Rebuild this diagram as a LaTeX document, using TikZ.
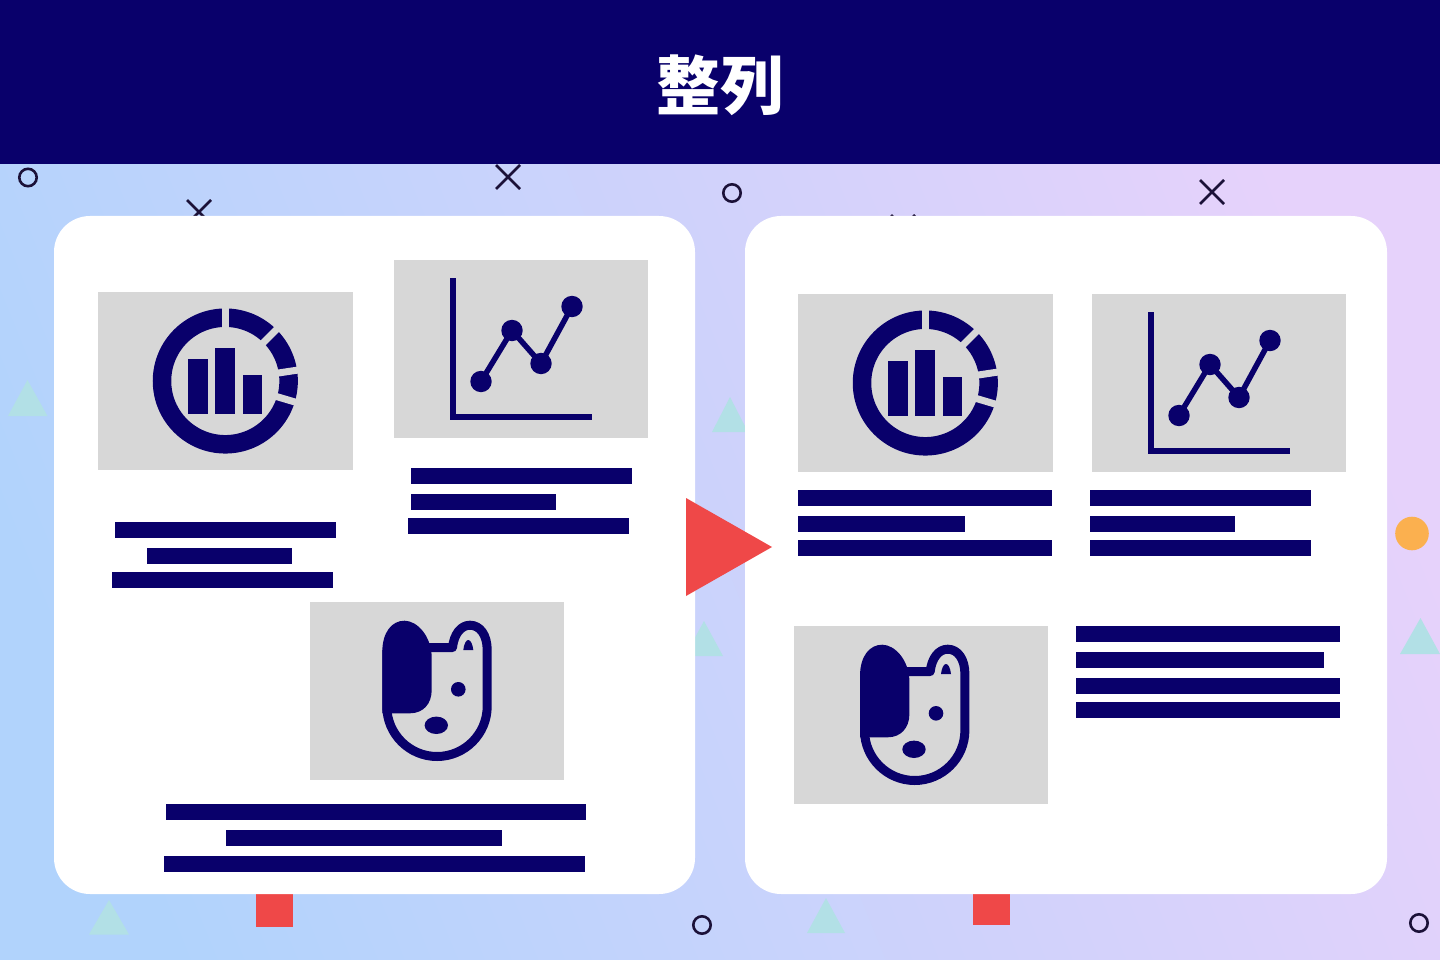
\documentclass[tikz,border=0pt]{standalone}
\usepackage{fontspec}
\newfontfamily\cjk{Noto Sans CJK JP}
\definecolor{navy}{HTML}{09006B}
\definecolor{panelgrey}{HTML}{D7D7D7}
\definecolor{ink}{HTML}{1B1138}
\definecolor{teal}{HTML}{B2E0E6}
\definecolor{redmark}{HTML}{EF4848}
\definecolor{orangemark}{HTML}{FBB04F}
\definecolor{bgA}{HTML}{B1D3FC}
\definecolor{bgB}{HTML}{E6D2FB}
\tikzset{
  cardbox/.style={fill=white,rounded corners=36pt},
  panelbox/.style={fill=panelgrey},
  barbox/.style={fill=navy},
  ringmark/.style={draw=ink,line width=2.6pt},
  crossmark/.style={draw=ink,line width=2.6pt},
  triamark/.style={fill=teal},
  squaremark/.style={fill=redmark},
  gapline/.style={draw=panelgrey,line width=7pt},
  iconline/.style={draw=navy,line width=5.5pt},
  doglines/.style={draw=navy,line width=9pt,line join=round}
}
\newcommand{\gaugeicon}[2]{%
\begin{scope}[shift={(#1,#2)}]
  \draw[navy,line width=18.5pt] (225.3,381) circle[radius=63.3];
  \draw[gapline] (225,300) -- (225,350);
  \draw[gapline] (282,324) -- (260,346);
  \draw[gapline] (305,369) -- (275,373.5);
  \draw[gapline] (305,405) -- (273,395.5);
  \fill[navy] (188,359.3) rectangle (207.7,414);
  \fill[navy] (215.3,347.7) rectangle (235,414);
  \fill[navy] (242.7,375) rectangle (262.3,414);
\end{scope}}
\newcommand{\charticon}[2]{%
\begin{scope}[shift={(#1,#2)}]
  \draw[iconline,line width=6pt] (453,278) -- (453,417) -- (592,417);
  \draw[iconline] (481,381.5) -- (512,330.5) -- (541,363.5) -- (572,306.5);
  \fill[navy] (481,381.5) circle[radius=10.7];
  \fill[navy] (512,330.5) circle[radius=10.7];
  \fill[navy] (541,363.5) circle[radius=10.7];
  \fill[navy] (572,306.5) circle[radius=10.7];
\end{scope}}
\newcommand{\dogicon}[2]{%
\begin{scope}[shift={(#1,#2)}]
  \draw[doglines] (386.8,650) -- (386.8,706.3) .. controls (386.8,734) and (409.4,756.5) .. (437,756.5)
     .. controls (464.6,756.5) and (487.2,734) .. (487.2,706.3) -- (487.2,650)
     .. controls (487.2,635) and (480,625.2) .. (470,625.2)
     .. controls (461,625.2) and (454,634) .. (452.5,647.5) -- (425,647.5);
  \fill[navy] (382.3,652) .. controls (382.3,632) and (392,620.7) .. (404.5,620.7)
     .. controls (417,620.7) and (431.7,636) .. (431.7,658) -- (431.7,690)
     .. controls (431.7,704) and (423,713.3) .. (410,713.3) -- (382.3,713.3) -- cycle;
  \fill[navy] (463.3,650) .. controls (464,644) and (466,640) .. (468.3,640)
     .. controls (470.6,640) and (472.6,644) .. (473.3,650) -- cycle;
  \fill[navy] (458.3,689.3) circle[radius=7.3];
  \fill[navy] (436.3,725.3) ellipse[x radius=11.7,y radius=8.7];
\end{scope}}
\newcommand{\xmark}[2]{%
  \draw[crossmark] (#1-12,#2-12) -- (#1+12,#2+12) (#1-12,#2+12) -- (#1+12,#2-12);}
\begin{document}
\begin{tikzpicture}[x=1pt,y=-1pt]
\useasboundingbox (0,0) rectangle (1440,960);
\begin{scope}
  \clip (0,0) rectangle (1440,960);
  \shade[left color=bgA,right color=bgB,shading angle=112] (-20,100) rectangle (1460,1000);
\end{scope}
% header
\fill[navy] (0,0) rectangle (1440,164);
\node[text=white,inner sep=0pt,anchor=center] (title) at (720,85.5)
  {\cjk\bfseries\fontsize{64}{72}\selectfont 整列};
% decorations
\draw[ringmark] (28,177.5) circle[radius=8.7];
\draw[ringmark] (732,193) circle[radius=8.7];
\draw[ringmark] (702,925) circle[radius=8.7];
\draw[ringmark] (1419,923) circle[radius=8.7];
\draw[ringmark] (1377,825) circle[radius=8.7];
\xmark{508}{177}
\xmark{199}{212}
\xmark{1212}{192}
\xmark{903}{227}
\fill[triamark] (27.5,380) -- (8,416) -- (47.5,416) -- cycle;
\fill[triamark] (730,397) -- (712,432) -- (748,432) -- cycle;
\fill[triamark] (704,621) -- (685,656) -- (723,656) -- cycle;
\fill[triamark] (1420.5,618) -- (1400,654) -- (1440,654) -- cycle;
\fill[triamark] (109,900) -- (89,934.5) -- (129,934.5) -- cycle;
\fill[triamark] (826,898) -- (807,933) -- (845,933) -- cycle;
\fill[squaremark] (256,890) rectangle (293,927);
\fill[squaremark] (973,890) rectangle (1010,925);
\fill[orangemark] (1412,533.5) circle[radius=16.8];
% cards
\fill[cardbox] (54,216) rectangle (695,894);
\fill[cardbox] (745,216) rectangle (1387,894);
% left card
\fill[panelbox] (98,292) rectangle (352.5,470);
\gaugeicon{0}{0}
\fill[panelbox] (393.5,260) rectangle (648,438);
\charticon{0}{0}
\fill[panelbox] (310,602) rectangle (564,780);
\dogicon{0}{0}
\fill[barbox] (115,522) rectangle (336,538);
\fill[barbox] (147,548) rectangle (292,564);
\fill[barbox] (112,572) rectangle (333,588);
\fill[barbox] (411,468) rectangle (632,484);
\fill[barbox] (411,494) rectangle (556,510);
\fill[barbox] (408,518) rectangle (629,534);
\fill[barbox] (165.5,804) rectangle (586,820);
\fill[barbox] (226,830) rectangle (502,846);
\fill[barbox] (164,856) rectangle (584.5,872);
% right card
\fill[panelbox] (798,294) rectangle (1052.5,472);
\gaugeicon{700}{2}
\fill[panelbox] (1091.5,294) rectangle (1346,472);
\charticon{698}{34}
\fill[panelbox] (794,626) rectangle (1048,804);
\dogicon{477.7}{24}
\fill[barbox] (798,490) rectangle (1052,506);
\fill[barbox] (798,516) rectangle (965,532);
\fill[barbox] (798,540) rectangle (1052,556);
\fill[barbox] (1090,490) rectangle (1311,506);
\fill[barbox] (1090,516) rectangle (1235,532);
\fill[barbox] (1090,540) rectangle (1311,556);
\fill[barbox] (1076,626) rectangle (1340,642);
\fill[barbox] (1076,652) rectangle (1324,668);
\fill[barbox] (1076,678) rectangle (1340,694);
\fill[barbox] (1076,702) rectangle (1340,718);
% arrow
\fill[redmark] (686,498) -- (772,547) -- (686,596) -- cycle;
\end{tikzpicture}
\end{document}
